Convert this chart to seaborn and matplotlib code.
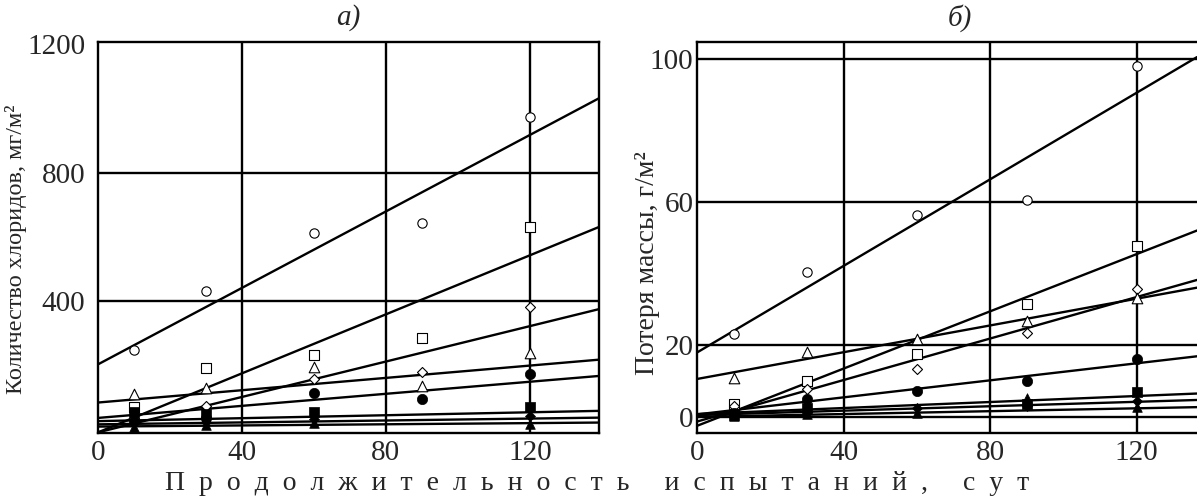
import numpy as np
import pandas as pd
import matplotlib
matplotlib.use("Agg")
import matplotlib.pyplot as plt
import seaborn as sns

# ---------------- data ----------------
days = [10, 30, 60, 90, 120]
series_names = ["open_circle", "open_square", "open_diamond", "open_triangle",
                "filled_circle", "filled_square", "filled_diamond", "filled_triangle"]

# panel a) chlorides, mg/m2
chl_open_circle = [247, 431, 612, 644, 974]
chl_open_square = [68, 190, 232, 284, 631]
chl_open_diamond = [34, 73, 156, 177, 382]
chl_open_triangle = [111, 127, 195, 135, 237]
chl_filled_circle = [25, 35, 112, 95, 173]
chl_filled_square = [55, 47, 55, np.nan, 69]
chl_filled_diamond = [20, 22, 33, np.nan, 41]
chl_filled_triangle = [8, 12, 18, np.nan, 16]
# fitted lines (intercept, slope) as read from panel a)
chl_intercepts = [202, -10, -10, 83, 35, 25, 15, 8]
chl_slopes = [5.96, 4.6, 2.76, 0.96, 0.94, 0.23, 0.15, 0.09]

# panel б) mass loss, g/m2
loss_open_circle = [23.3, 40.6, 56.5, 60.5, 98.0]
loss_open_square = [3.7, 10.1, 17.6, 31.6, 47.9]
loss_open_diamond = [3.1, 7.8, 13.4, 23.4, 35.7]
loss_open_triangle = [11.0, 18.2, 21.8, 26.9, 33.1]
loss_filled_circle = [1.0, 5.0, 7.3, 10.1, 16.3]
loss_filled_square = [0.5, 2.5, np.nan, 3.6, 7.0]
loss_filled_diamond = [0.5, 1.5, 2.4, 3.1, 4.5]
loss_filled_triangle = [0.3, 0.8, 1.0, 5.4, 2.8]
loss_intercepts = [18.0, -2.5, -1.3, 10.6, 0.7, 0.8, 0.5, 0.0]
loss_slopes = [0.605, 0.40, 0.29, 0.187, 0.119, 0.042, 0.031, 0.020]

xticks_a = [0, 40, 80, 120]
yticks_a = [400, 800, 1200]
xticks_b = [0, 40, 80, 120]
yticks_b = [0, 20, 60, 100]

title_a = "а)"
title_b = "б)"
ylabel_a = "Количество хлоридов, мг/м²"
ylabel_b = "Потеря массы, г/м²"
xlabel_words = ["Продолжительность", "испытаний,", "сут"]

# ---------------- style ----------------
sns.set_theme(style="white")
plt.rcParams['font.family'] = ['Liberation Serif', 'DejaVu Serif']

marker_styles = {
    "open_circle": dict(marker="o", s=45, color="white", edgecolor="black", linewidth=0.8),
    "open_square": dict(marker="s", s=58, color="white", edgecolor="black", linewidth=0.8),
    "open_diamond": dict(marker="D", s=26, color="white", edgecolor="black", linewidth=0.8),
    "open_triangle": dict(marker="^", s=58, color="white", edgecolor="black", linewidth=0.8),
    "filled_circle": dict(marker="o", s=55, color="black", edgecolor="black", linewidth=0.5),
    "filled_square": dict(marker="s", s=60, color="black", edgecolor="black", linewidth=0.5),
    "filled_diamond": dict(marker="D", s=26, color="black", edgecolor="black", linewidth=0.5),
    "filled_triangle": dict(marker="^", s=48, color="black", edgecolor="black", linewidth=0.5),
}

fig = plt.figure(figsize=(11.97, 5.01), dpi=100)
ax_a = fig.add_axes([98 / 1197, 68 / 501, 501 / 1197, 391 / 501])
ax_b = fig.add_axes([697 / 1197, 68 / 501, 500 / 1197, 391 / 501])

FS_TICK = 21
LW = 1.7


def draw_panel(ax, data_lists, intercepts, slopes, xlim, ylim, xticks, yticks, ygrid, ypad):
    ax.set_xlim(*xlim)
    ax.set_ylim(*ylim)
    for xv in xticks[1:]:
        ax.axvline(xv, color="black", lw=LW, zorder=1)
    for yv in ygrid:
        ax.axhline(yv, color="black", lw=LW, zorder=1)
    xs = np.array([xlim[0], xlim[1]])
    for a, b in zip(intercepts, slopes):
        df = pd.DataFrame({"x": xs, "y": a + b * xs})
        sns.lineplot(data=df, x="x", y="y", ax=ax, color="black", lw=LW, zorder=2)
    for name, vals in zip(series_names, data_lists):
        df = pd.DataFrame({"x": days, "y": vals}).dropna()
        sns.scatterplot(data=df, x="x", y="y", ax=ax, zorder=3, clip_on=False,
                        **marker_styles[name])
    ax.set_xticks(xticks)
    ax.set_yticks(yticks)
    ax.set_xticklabels([str(t) for t in xticks], fontsize=FS_TICK)
    ax.set_yticklabels([str(t) for t in yticks], fontsize=FS_TICK)
    ax.tick_params(axis="both", length=0, pad=5)
    ax.tick_params(axis="y", pad=ypad)
    ax.set_xlabel("")
    for sp in ax.spines.values():
        sp.set_color("black")
        sp.set_linewidth(LW)


draw_panel(ax_a,
           [chl_open_circle, chl_open_square, chl_open_diamond, chl_open_triangle,
            chl_filled_circle, chl_filled_square, chl_filled_diamond, chl_filled_triangle],
           chl_intercepts, chl_slopes, (0, 139.2), (-12, 1207),
           xticks_a, yticks_a, [400, 800], 9)
draw_panel(ax_b,
           [loss_open_circle, loss_open_square, loss_open_diamond, loss_open_triangle,
            loss_filled_circle, loss_filled_square, loss_filled_diamond, loss_filled_triangle],
           loss_intercepts, loss_slopes, (0, 136.5), (-4.5, 104.8),
           xticks_b, yticks_b, [0, 20, 60, 100], 2.5)
ax_b.spines["right"].set_visible(False)

ax_a.set_ylabel(ylabel_a, fontsize=17.5)
ax_a.yaxis.set_label_coords(-0.142, 0.47)
ax_b.set_ylabel(ylabel_b, fontsize=20)
ax_b.yaxis.set_label_coords(-0.074, 0.435)

ax_a.text(0.5, 1.062, title_a, transform=ax_a.transAxes, ha="center", va="center",
          fontsize=FS_TICK, style="italic")
ax_b.text(0.525, 1.062, title_b, transform=ax_b.transAxes, ha="center", va="center",
          fontsize=FS_TICK, style="italic")

xlabel = "     ".join("  ".join(list(w)) for w in xlabel_words)
fig.text(0.499, 0.035, xlabel, ha="center", va="center", fontsize=20)

fig.savefig("out.png", dpi=100)
